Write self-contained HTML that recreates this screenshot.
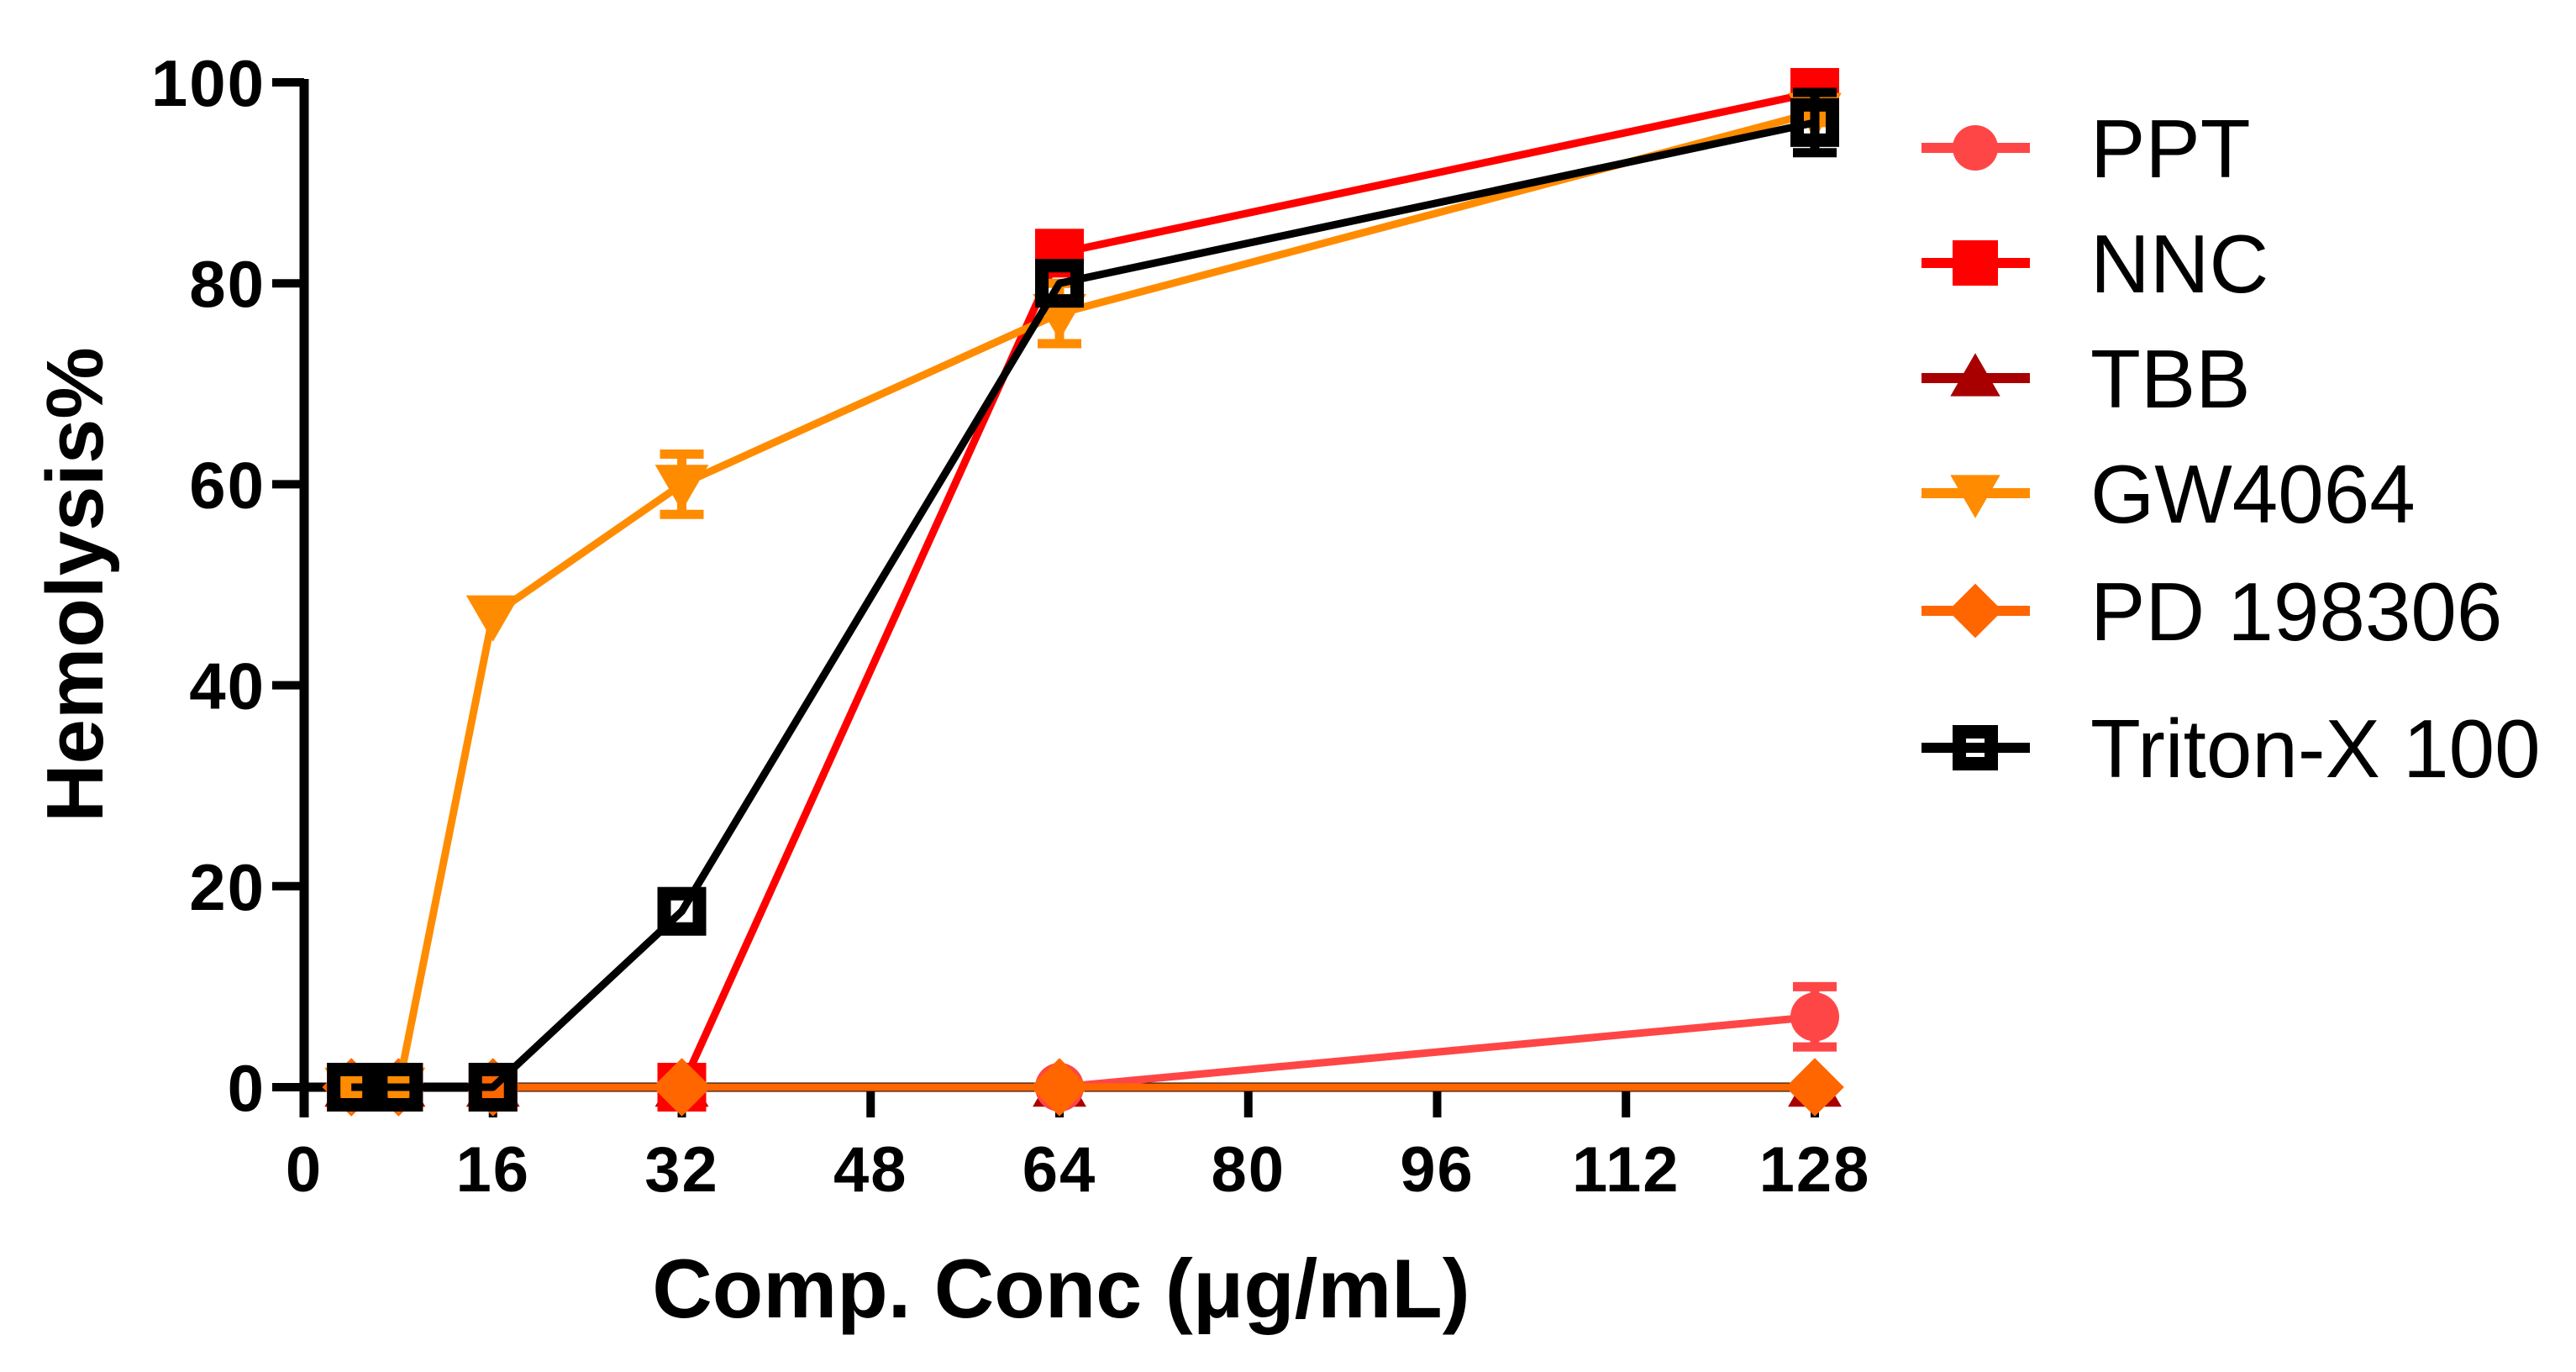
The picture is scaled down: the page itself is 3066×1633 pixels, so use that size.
<!DOCTYPE html>
<html><head><meta charset="utf-8"><style>
html,body{margin:0;padding:0;background:#fff}
svg{display:block}
text{font-family:"Liberation Sans",Arial,sans-serif}
</style></head><body>
<svg id="chart" width="3066" height="1633" viewBox="0 0 3066 1633" xmlns="http://www.w3.org/2000/svg">
<g id="axes"></g>
<g id="series"></g>
<g id="legend"></g>
</svg>
<script>
const xValues = [4, 8, 16, 32, 64, 128];
const xTicks = [0, 16, 32, 48, 64, 80, 96, 112, 128];
const yTicks = [0, 20, 40, 60, 80, 100];
const seriesNames = ["PPT", "NNC", "TBB", "GW4064", "PD 198306", "Triton-X 100"];
const pptValues = [0, 0, 0, 0, 0, 7];
const pptErrors = [0, 0, 0, 0, 0, 3];
const nncValues = [0, 0, 0, 0, 83, 99];
const nncErrors = [0, 0, 0, 0, 0, 1];
const tbbValues = [0, 0, 0, 0, 0, 0];
const tbbErrors = [0, 0, 0, 0, 0, 0];
const gwValues = [0, 0, 47, 60, 77, 97];
const gwErrors = [0, 0, 0, 3, 3, 1];
const pdValues = [0, 0, 0, 0, 0, 0];
const pdErrors = [0, 0, 0, 0, 0, 0];
const tritonValues = [0, 0, 0, 17.5, 80, 96];
const tritonErrors = [0, 0, 0, 0, 0, 3];

const NS = "http://www.w3.org/2000/svg";
const X0 = 362, X1 = 2160, Y0 = 1294, Y1 = 98;
function xs(v){ return X0 + (v - 0) / 128 * (X1 - X0); }
function ys(v){ return Y0 - v / 100 * (Y0 - Y1); }
function mk(tag, attrs, parent){
  const e = document.createElementNS(NS, tag);
  for (const k in attrs) e.setAttribute(k, attrs[k]);
  parent.appendChild(e);
  return e;
}
const axes = document.getElementById("axes");
const seriesG = document.getElementById("series");
const legend = document.getElementById("legend");

let yl = mk("line", {x1: X0, y1: Y1 - 4, x2: X0, y2: Y0 + 36, stroke: "#000", "stroke-width": 11}, axes);


let xl = mk("line", {x1: X0 - 5, y1: Y0, x2: X1 + 10, y2: Y0, stroke: "#000", "stroke-width": 11}, axes);


yTicks.forEach(t => {
  const y = ys(t);
  const tk = mk("line", {x1: X0 - 38, y1: y, x2: X0, y2: y, stroke: "#000", "stroke-width": 10}, axes);
  
  
  const tx = mk("text", {x: X0 - 46, y: y + 28, "text-anchor": "end", "font-size": 78, "font-weight": "bold", "letter-spacing": 2}, axes);
  tx.textContent = t;
  
  
});
xTicks.forEach(t => {
  const x = xs(t);
  const tk = mk("line", {x1: x, y1: Y0, x2: x, y2: Y0 + 36, stroke: "#000", "stroke-width": 10}, axes);
  
  
  const tx = mk("text", {x: x, y: Y0 + 124, "text-anchor": "middle", "font-size": 76, "font-weight": "bold", "letter-spacing": 2}, axes);
  tx.textContent = t;
  
  
});
const xt = mk("text", {x: 1263, y: 1568, "text-anchor": "middle", "font-size": 99, "font-weight": "bold"}, axes);
xt.textContent = "Comp. Conc (\u03bcg/mL)";


const yt = mk("text", {x: 0, y: 0, "text-anchor": "middle", "font-size": 96, "font-weight": "bold", transform: "translate(122,696) rotate(-90)"}, axes);
yt.textContent = "Hemolysis%";



function marker(type, cx, cy, color, parent, s){
  let e;
  if (type === "circle") e = mk("circle", {cx, cy, r: s*0.5, fill: color}, parent);
  else if (type === "square") e = mk("rect", {x: cx - s/2, y: cy - s/2, width: s, height: s, fill: color}, parent);
  else if (type === "tri") e = mk("polygon", {points: `${cx},${cy - s*0.55} ${cx - s*0.55},${cy + s*0.4} ${cx + s*0.55},${cy + s*0.4}`, fill: color}, parent);
  else if (type === "tridown") e = mk("polygon", {points: `${cx - s*0.55},${cy - s*0.4} ${cx + s*0.55},${cy - s*0.4} ${cx},${cy + s*0.55}`, fill: color}, parent);
  else if (type === "diamond") e = mk("polygon", {points: `${cx},${cy - s*0.6} ${cx + s*0.6},${cy} ${cx},${cy + s*0.6} ${cx - s*0.6},${cy}`, fill: color}, parent);
  else if (type === "opensquare") e = mk("rect", {x: cx - s/2 + 8, y: cy - s/2 + 8, width: s - 16, height: s - 16, fill: "none", stroke: color, "stroke-width": 16}, parent);
  return e;
}
const series = [
  {vals: tbbValues, errs: tbbErrors, color: "#a80000", m: "tri"},
  {vals: pptValues, errs: pptErrors, color: "#ff4646", m: "circle"},
  {vals: nncValues, errs: nncErrors, color: "#ff0000", m: "square"},
  {vals: pdValues, errs: pdErrors, color: "#ff6600", m: "diamond"},
  {vals: gwValues, errs: gwErrors, color: "#ff8c00", m: "tridown"},
  {vals: tritonValues, errs: tritonErrors, color: "#000000", m: "opensquare"}
];
const slugs = {"#a80000":"tbb","#ff4646":"ppt","#ff6600":"pd-198306","#ff8c00":"gw4064","#ff0000":"nnc","#000000":"triton-x-100"};
series.forEach(s => {
  const g = mk("g", {}, seriesG);
  
  
  const pts = xValues.map((x, i) => xs(x) + "," + ys(s.vals[i])).join(" ");
  const pl = mk("polyline", {points: pts, fill: "none", stroke: s.color, "stroke-width": 9, "stroke-linejoin": "round"}, g);
  
  
  xValues.forEach((x, i) => {
    if (s.errs[i] > 0) {
      const cx = xs(x), hi = ys(s.vals[i] + s.errs[i]), lo = ys(s.vals[i] - s.errs[i]);
      const eb = mk("path", {d: `M${cx},${hi}V${lo}M${cx-26},${hi}H${cx+26}M${cx-26},${lo}H${cx+26}`, stroke: s.color, "stroke-width": 11, fill: "none"}, g);
      
      
    }
    const m = marker(s.m, xs(x), ys(s.vals[i]), s.color, g, 58);
    
    
  });
});

const legendColors = ["#ff4646", "#ff0000", "#a80000", "#ff8c00", "#ff6600", "#000000"];
const legendMarkers = ["circle", "square", "tri", "tridown", "diamond", "opensquare"];
const legendY = [176, 313, 450, 587, 727, 890];
seriesNames.forEach((n, i) => {
  const g = mk("g", {}, legend);
  
  
  const y = legendY[i];
  mk("line", {x1: 2287, y1: y, x2: 2416, y2: y, stroke: legendColors[i], "stroke-width": 12}, g);
  marker(legendMarkers[i], 2351, y, legendColors[i], g, 54);
  const t = mk("text", {x: 2488, y: y + 35, "font-size": 98}, g);
  t.textContent = n;
});
</script>
</body></html>
